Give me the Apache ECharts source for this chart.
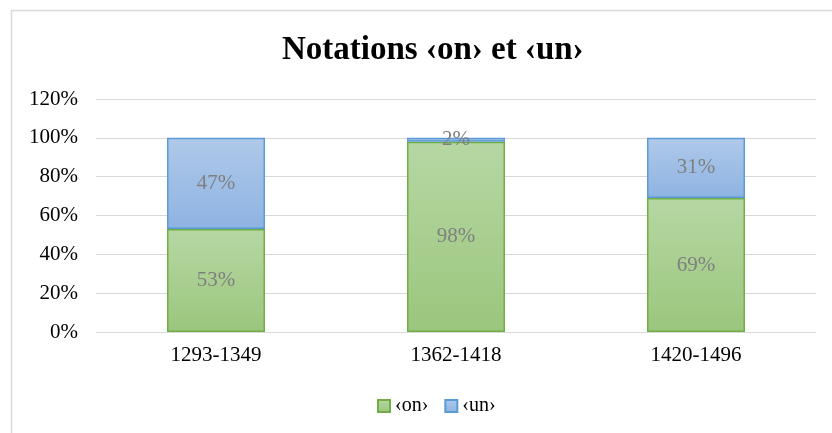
<!DOCTYPE html>
<html>
<head>
<meta charset="utf-8">
<script src="https://cdn.jsdelivr.net/npm/echarts@6/dist/echarts.min.js"></script>
<style>
  html, body { margin: 0; padding: 0; background: #fff; }
  #chart { width: 832px; height: 433px; }
</style>
</head>
<body>
<div id="chart"></div>
<script>
const periods = ['1293-1349', '1362-1418', '1420-1496'];
const onValues = [53, 98, 69];
const unValues = [47, 2, 31];
const yTicks = [0, 20, 40, 60, 80, 100, 120];

const chart = echarts.init(document.getElementById('chart'));

const serif = '"Liberation Serif", "DejaVu Serif", serif';

function grad(top, bottom) {
  return new echarts.graphic.LinearGradient(0, 0, 0, 1, [
    {offset: 0, color: top},
    {offset: 1, color: bottom}
  ]);
}

const labelStyle = {
  show: true,
  position: 'inside',
  formatter: '{c}%',
  color: '#7f7f7f',
  fontFamily: serif,
  fontSize: 21
};

chart.setOption({
  animation: false,
  title: {
    text: 'Notations ‹on› et ‹un›',
    left: 277,
    top: 29,
    textStyle: {fontFamily: serif, fontSize: 33, fontWeight: 'bold', color: '#000'}
  },
  graphic: [{
    type: 'rect',
    shape: {x: 11.5, y: 10.5, width: 840, height: 440},
    style: {fill: 'none', stroke: '#d9d9d9', lineWidth: 1.5},
    silent: true
  }],
  legend: {
    bottom: 12,
    left: 372,
    icon: 'rect',
    itemWidth: 12,
    itemHeight: 12,
    itemGap: 16,
    textStyle: {fontFamily: serif, fontSize: 20, color: '#000'},
    data: ['‹on›', '‹un›']
  },
  grid: {left: 96, right: 16, top: 99, bottom: 101},
  xAxis: {
    type: 'category',
    data: periods,
    axisLine: {lineStyle: {color: '#d9d9d9', width: 1}},
    axisTick: {show: false},
    axisLabel: {color: '#000', fontFamily: serif, fontSize: 21, margin: 13}
  },
  yAxis: {
    type: 'value',
    min: yTicks[0],
    max: yTicks[yTicks.length - 1],
    interval: 20,
    axisLine: {show: false},
    axisTick: {show: false},
    splitLine: {lineStyle: {color: '#d9d9d9', width: 1}},
    axisLabel: {color: '#000', fontFamily: serif, fontSize: 21, margin: 18, formatter: '{value}%'}
  },
  series: [
    {
      name: '‹on›',
      type: 'bar',
      stack: 'total',
      barWidth: 98,
      data: onValues,
      itemStyle: {color: grad('#b6d7a3', '#9bc67d'), borderColor: '#70ad47', borderWidth: 1.5},
      label: labelStyle
    },
    {
      name: '‹un›',
      type: 'bar',
      stack: 'total',
      barWidth: 98,
      data: unValues,
      itemStyle: {color: grad('#afc9e9', '#8eb3e2'), borderColor: '#5b9bd5', borderWidth: 1.5},
      label: labelStyle
    }
  ]
});
</script>
</body>
</html>
